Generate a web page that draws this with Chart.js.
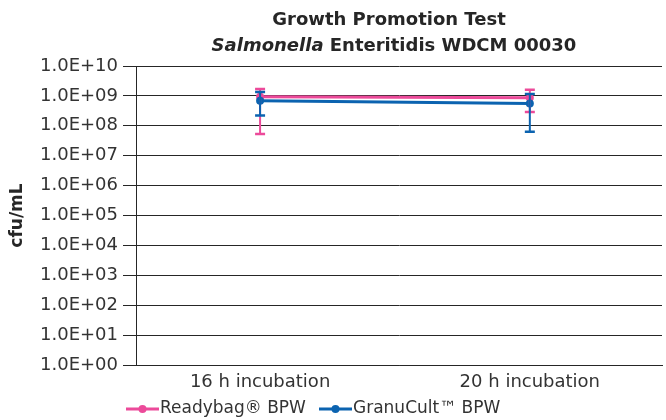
<!DOCTYPE html>
<html>
<head>
<meta charset="utf-8">
<script src="https://cdn.jsdelivr.net/npm/chart.js@4.4.0/dist/chart.umd.min.js"></script>
<style>
  html, body { margin: 0; padding: 0; background: #fff; }
</style>
</head>
<body>
<canvas id="chart" width="666" height="420"></canvas>
<script>
// categories on the x axis
var categories = ['16 h incubation', '20 h incubation'];

// Readybag BPW (cfu/mL) with error bar ends
var readybag = [9.4e8, 8.6e8];
var readybagLow = [5.3e7, 2.9e8];
var readybagHigh = [1.7e9, 1.6e9];

// GranuCult BPW (cfu/mL) with error bar ends
var granucult = [6.9e8, 5.6e8];
var granucultLow = [2.2e8, 6.3e7];
var granucultHigh = [1.35e9, 1.16e9];

// y ticks, one per decade
var yTicks = [1e0, 1e1, 1e2, 1e3, 1e4, 1e5, 1e6, 1e7, 1e8, 1e9, 1e10];

var PINK = '#EC4A9A';
var BLUE = '#0B63B0';
var FONT = 'DejaVu Sans';

function sciLabel(v) {
  var e = Math.round(Math.log10(v));
  return '1.0E+' + (e < 10 ? '0' : '') + e;
}

function toPoints(arr) {
  return arr.map(function (v, i) { return { x: i, y: v }; });
}

var errorBars = {
  id: 'errorBars',
  afterDatasetsDraw: function (chart) {
    var ctx = chart.ctx;
    var xs = chart.scales.x, ys = chart.scales.y;
    var sets = [
      { low: readybagLow, high: readybagHigh, color: PINK },
      { low: granucultLow, high: granucultHigh, color: BLUE }
    ];
    ctx.save();
    sets.forEach(function (s) {
      ctx.strokeStyle = s.color;
      for (var i = 0; i < s.low.length; i++) {
        var x = xs.getPixelForValue(i);
        var y1 = ys.getPixelForValue(s.low[i]);
        var y2 = ys.getPixelForValue(s.high[i]);
        ctx.lineWidth = 2;
        ctx.beginPath(); ctx.moveTo(x, y1); ctx.lineTo(x, y2); ctx.stroke();
        ctx.lineWidth = 2.5;
        ctx.beginPath();
        ctx.moveTo(x - 5, y1); ctx.lineTo(x + 5, y1);
        ctx.moveTo(x - 5, y2); ctx.lineTo(x + 5, y2);
        ctx.stroke();
      }
    });
    ctx.restore();
  }
};

// two line title, the genus in italics
var titleLines = {
  id: 'titleLines',
  afterDraw: function (chart) {
    var ctx = chart.ctx;
    var bold = 'bold 18px "' + FONT + '"';
    var ital = 'italic bold 18px "' + FONT + '"';
    ctx.save();
    ctx.fillStyle = '#262626';
    ctx.textBaseline = 'middle';
    ctx.textAlign = 'center';
    ctx.font = bold;
    ctx.fillText('Growth Promotion Test', 389, 20);
    var a = 'Salmonella', b = ' Enteritidis WDCM 00030';
    ctx.font = ital;
    var wa = ctx.measureText(a).width;
    ctx.font = bold;
    var wb = ctx.measureText(b).width;
    var x0 = 394 - (wa + wb) / 2;
    ctx.textAlign = 'left';
    ctx.font = ital;
    ctx.fillText(a, x0, 46);
    ctx.font = bold;
    ctx.fillText(b, x0 + wa, 46);
    ctx.restore();
  }
};

// legend: line with a dot, then the series name
var lineLegend = {
  id: 'lineLegend',
  afterDraw: function (chart) {
    var ctx = chart.ctx;
    var starts = [126, 319];
    ctx.save();
    ctx.font = '17px "' + FONT + '"';
    ctx.textBaseline = 'middle';
    chart.data.datasets.forEach(function (ds, i) {
      var x = starts[i], y = 409;
      ctx.strokeStyle = ds.borderColor;
      ctx.fillStyle = ds.borderColor;
      ctx.lineWidth = 3;
      ctx.beginPath(); ctx.moveTo(x, y); ctx.lineTo(x + 33, y); ctx.stroke();
      ctx.beginPath(); ctx.arc(x + 16.5, y, 4, 0, Math.PI * 2); ctx.fill();
      ctx.fillStyle = '#333';
      ctx.fillText(ds.label, x + 34, y);
    });
    ctx.restore();
  }
};

new Chart(document.getElementById('chart'), {
  type: 'line',
  data: {
    datasets: [{
      label: 'Readybag® BPW',
      data: toPoints(readybag),
      borderColor: PINK,
      backgroundColor: PINK,
      borderWidth: 3,
      pointRadius: 4,
      pointBorderWidth: 0,
      order: 2
    }, {
      label: 'GranuCult™ BPW',
      data: toPoints(granucult),
      borderColor: BLUE,
      backgroundColor: BLUE,
      borderWidth: 3,
      pointRadius: 4,
      pointBorderWidth: 0,
      order: 1
    }]
  },
  options: {
    responsive: false,
    animation: false,
    layout: { padding: { top: 66, right: 1, left: 0, bottom: 0 } },
    plugins: {
      tooltip: { enabled: false },
      legend: { display: false }
    },
    scales: {
      x: {
        type: 'linear',
        min: -0.46,
        max: 1.49,
        afterBuildTicks: function (s) { s.ticks = categories.map(function (c, i) { return { value: i }; }); },
        afterFit: function (s) { s.height = 55; },
        ticks: {
          color: '#333',
          padding: 7,
          font: { family: FONT, size: 18 },
          callback: function (v) { return categories[v]; }
        },
        grid: { display: false, drawTicks: false },
        border: { display: true, color: '#262626', width: 1 }
      },
      y: {
        type: 'logarithmic',
        min: 1,
        max: 1e10,
        afterBuildTicks: function (s) { s.ticks = yTicks.map(function (v) { return { value: v }; }); },
        afterFit: function (s) { s.width = 136; },
        ticks: {
          color: '#333',
          padding: 5,
          font: { family: FONT, size: 18 },
          callback: function (v) { return sciLabel(v); }
        },
        grid: { color: '#262626', lineWidth: 1, tickLength: 13, drawTicks: true },
        border: { display: true, color: '#262626', width: 1 },
        title: {
          display: true,
          text: 'cfu/mL',
          color: '#262626',
          font: { family: FONT, size: 17, weight: 'bold' },
          padding: { top: 7, bottom: 0 }
        }
      }
    }
  },
  plugins: [errorBars, titleLines, lineLegend]
});
</script>
</body>
</html>
